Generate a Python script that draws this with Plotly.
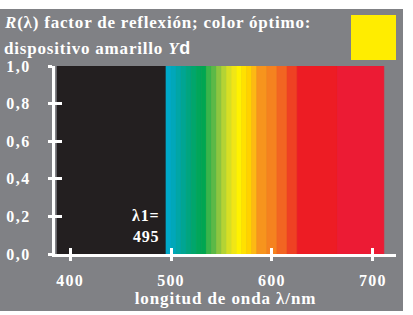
import plotly.graph_objects as go

# ---- data ----
band_start = [387, 495, 500, 505, 510, 515, 520, 525, 530, 535, 540, 545, 550, 555,
              560, 565, 570, 575, 580, 585, 595, 605, 615, 625, 665]
band_end = [495, 500, 505, 510, 515, 520, 525, 530, 535, 540, 545, 550, 555, 560,
            565, 570, 575, 580, 585, 595, 605, 615, 625, 665, 711]
band_height = [1.0, 1.0, 1.0, 1.0, 1.0, 1.0, 1.0, 1.0, 1.0, 1.0, 1.0, 1.0, 1.0, 1.0,
               1.0, 1.0, 1.0, 1.0, 1.0, 1.0, 1.0, 1.0, 1.0, 1.0, 1.0]
band_color = ["#231f20", "#00a9c9", "#00a7ba", "#00a6a6", "#00a593", "#00a57f",
              "#00a66c", "#00a65a", "#00a651", "#39b54a", "#5cb947", "#8dc63f",
              "#b4d334", "#d7df23", "#f0e616", "#fff200", "#ffe100", "#ffd200",
              "#fdb913", "#f7941d", "#f5821f", "#f26522", "#ef4123", "#ed1c24",
              "#ec1b34"]
x_ticks = [400, 500, 600, 700]
y_ticks = [0.0, 0.2, 0.4, 0.6, 0.8, 1.0]
lambda1 = 495

# ---- layout geometry (pixels) ----
W, H = 413, 315
L, R, T, B = 55, 17, 66, 61
PW, PH = W - L - R, H - T - B


def px(x):
    return (x - L) / PW


def py(y):
    return (H - B - y) / PH


def wide(s, sp):
    return "<span style='letter-spacing:%.1fpx'>%s</span>" % (sp, s)


GRAY = "#808185"
FONT = "Liberation Serif"

mids = [(a + b) / 2 for a, b in zip(band_start, band_end)]
widths = [b - a for a, b in zip(band_start, band_end)]

fig = go.Figure()
fig.add_trace(go.Bar(x=mids, y=band_height, width=widths,
                     marker=dict(color=band_color,
                                 line=dict(color=band_color, width=0.6)),
                     hoverinfo="skip", showlegend=False))
# invisible copy on overlay axes (carries the second set of tick marks)
fig.add_trace(go.Bar(x=mids, y=band_height, width=widths, opacity=0,
                     xaxis="x2", yaxis="y2", hoverinfo="skip", showlegend=False))

xr = [385, 723]
yr = [0, 1.0]
tickfont = dict(family=FONT, size=16, color="white", weight="bold")

fig.update_layout(
    width=W, height=H,
    margin=dict(l=L, r=R, t=T, b=B, pad=0, autoexpand=False),
    paper_bgcolor=GRAY, plot_bgcolor=GRAY,
    barmode="overlay",
    xaxis=dict(range=xr, tickvals=x_ticks,
               ticktext=[wide("%d" % v, 1.2) for v in x_ticks],
               ticks="outside", ticklen=4, automargin=False,
               tickwidth=3, tickcolor="white", showline=True, linewidth=3,
               linecolor="white", showgrid=False, zeroline=False,
               tickfont=tickfont, ticklabelstandoff=6,
               title=dict(text=wide("longitud de onda λ/nm", 0.9), standoff=4,
                          font=dict(family=FONT, size=17, color="white",
                                    weight="bold"))),
    yaxis=dict(range=yr, tickvals=y_ticks,
               ticktext=[wide(("%.1f" % v).replace(".", ","), 1.5) for v in y_ticks],
               ticks="outside", automargin=False,
               ticklen=4, tickwidth=3, tickcolor="white", showline=True,
               linewidth=3, linecolor="white", showgrid=False, zeroline=False,
               tickfont=tickfont, ticklabelstandoff=14),
    xaxis2=dict(range=xr, overlaying="x", anchor="y2", side="bottom",
                tickvals=x_ticks, ticks="inside", ticklen=6, tickwidth=3,
                tickcolor="white", showticklabels=False, showgrid=False,
                zeroline=False, showline=False, automargin=False),
    yaxis2=dict(range=yr, overlaying="y", anchor="x2", side="left",
                tickvals=y_ticks, ticks="inside", ticklen=7, tickwidth=3,
                tickcolor="white", showticklabels=False, showgrid=False,
                zeroline=False, showline=False, automargin=False),
)

# white page margins around the gray card
fig.add_shape(type="rect", xref="paper", yref="paper", x0=px(-5), x1=px(W + 5),
              y0=py(9), y1=py(-5), fillcolor="white", line_width=0, layer="above")
fig.add_shape(type="rect", xref="paper", yref="paper", x0=px(403), x1=px(W + 5),
              y0=py(H + 5), y1=py(-5), fillcolor="white", line_width=0, layer="above")
fig.add_shape(type="rect", xref="paper", yref="paper", x0=px(-5), x1=px(W + 5),
              y0=py(H + 5), y1=py(311), fillcolor="white", line_width=0, layer="above")
# yellow colour sample
fig.add_shape(type="rect", xref="paper", yref="paper", x0=px(351), x1=px(396),
              y0=py(60), y1=py(15), fillcolor="#ffed00", line_width=0, layer="above")

titlefont = dict(family=FONT, size=17, color="white", weight="bold")
fig.add_annotation(xref="paper", yref="paper", x=px(2), y=py(23),
                   xanchor="left", yanchor="middle", showarrow=False,
                   text=wide("<i>R</i>(λ) factor de reflexión; color óptimo:", 0.8),
                   font=titlefont)
fig.add_annotation(xref="paper", yref="paper", x=px(2), y=py(48),
                   xanchor="left", yanchor="middle", showarrow=False,
                   text=wide("dispositivo amarillo <i>Y</i>", 0.8)
                   + "<span style=\"font-family:'Liberation Sans';font-size:18px\">d</span>",
                   font=titlefont)
fig.add_annotation(x=lambda1 - 5, y=0.15, xanchor="right", yanchor="middle",
                   showarrow=False, align="right",
                   text=wide("λ1=", 0.8) + "<br>" + wide("%d" % lambda1, 0.8),
                   font=dict(family=FONT, size=16, color="white", weight="bold"))

fig.write_html("out.html", config={"displayModeBar": False},
               post_script="document.body.style.margin='0';document.body.style.padding='0';")
